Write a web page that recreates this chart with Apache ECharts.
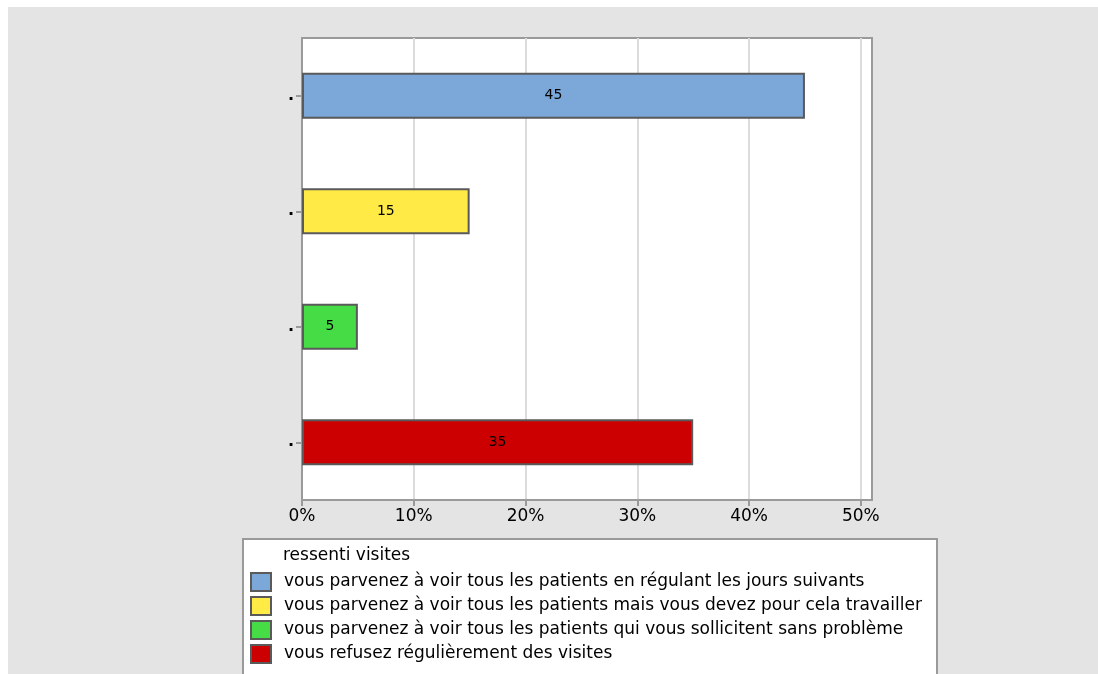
<!DOCTYPE html>
<html><head><meta charset="utf-8">
<script src="https://cdn.jsdelivr.net/npm/echarts@6/dist/echarts.min.js"></script>
<style>
html,body{margin:0;padding:0;background:#fff;}
#wrap{position:relative;width:1098px;height:674px;background:#fff;overflow:hidden;}
#chart{position:absolute;left:8px;top:7px;width:1090px;height:667px;}
</style></head>
<body><div id="wrap"><div id="chart"></div></div>
<script>
var categories = ['.', '.', '.', '.'];
var seriesNames = [
  'vous parvenez à voir tous les patients en régulant les jours suivants',
  'vous parvenez à voir tous les patients mais vous devez pour cela travailler',
  'vous parvenez à voir tous les patients qui vous sollicitent sans problème',
  'vous refusez régulièrement des visites'
];
var percentValues = [45, 15, 5, 35];
var labelValues = ['45', '15', '5', '35'];
var colors = ['#7ba7d9', '#ffea46', '#45dc45', '#cc0000'];
var legendTitle = 'ressenti visites';
var tickValues = [0, 10, 20, 30, 40, 50];

var FONT = 'DejaVu Sans';
var series = seriesNames.map(function (name, i) {
  var data = categories.map(function (c, j) { return j === i ? percentValues[i] : null; });
  return {
    name: name,
    type: 'bar',
    stack: 'all',
    barWidth: 46,
    data: data,
    itemStyle: { color: colors[i], borderColor: '#5a5a5a', borderWidth: 2 },
    label: {
      show: true, position: 'inside', color: '#000', fontSize: 14, fontFamily: FONT,
      formatter: function () { return labelValues[i]; }
    }
  };
});

var chart = echarts.init(document.getElementById('chart'));
chart.setOption({
  backgroundColor: '#e4e4e4',
  animation: false,
  grid: { left: 294, top: 31, right: 226, bottom: 174, show: true, backgroundColor: '#fff', borderColor: '#9a9a9a', borderWidth: 2 },
  xAxis: {
    type: 'value', min: 0, max: 51, interval: 5,
    axisLine: { show: true, lineStyle: { color: '#9a9a9a', width: 2 } },
    axisTick: { show: true, length: 6, customValues: tickValues, lineStyle: { color: '#9a9a9a', width: 2 } },
    axisLabel: { customValues: tickValues, formatter: '{value}%', color: '#000', fontSize: 17, fontFamily: FONT, margin: 8 },
    splitLine: { show: true, lineStyle: { color: '#dcdcdc', width: 2 } }
  },
  yAxis: {
    type: 'category', data: categories, inverse: true,
    axisLine: { show: true, lineStyle: { color: '#9a9a9a', width: 2 } },
    axisTick: { show: true, alignWithLabel: true, length: 6, lineStyle: { color: '#9a9a9a', width: 2 } },
    axisLabel: { color: '#000', fontSize: 16, fontFamily: FONT, margin: 8, fontWeight: 'bold' },
    splitLine: { show: false }
  },
  legend: {
    orient: 'vertical', left: 242, top: 565, padding: 0, itemWidth: 20, itemHeight: 18, itemGap: 4,
    icon: 'rect',
    itemStyle: { borderColor: '#5a5a5a', borderWidth: 2 },
    textStyle: { color: '#000', fontSize: 17, lineHeight: 18, fontFamily: FONT, padding: [0, 0, 0, 8] },
    data: seriesNames
  },
  graphic: [
    { type: 'rect', left: 234, top: 531, z: -1, shape: { width: 694, height: 142 },
      style: { fill: '#fff', stroke: '#9a9a9a', lineWidth: 2 } },
    { type: 'text', left: 275, top: 540, style: { text: legendTitle, fill: '#000', font: '17px "DejaVu Sans"' } }
  ],
  series: series
});
</script></body></html>
